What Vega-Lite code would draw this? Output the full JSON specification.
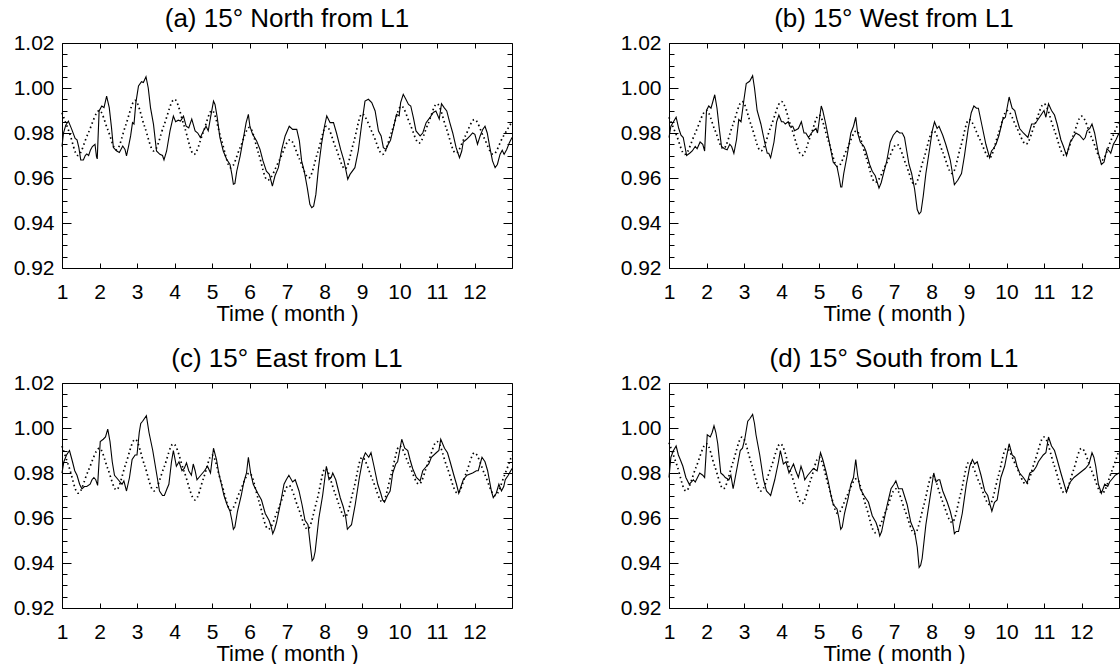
{
  "$schema": "https://vega.github.io/schema/vega-lite/v6.json",
  "padding": {"left": 13, "top": 6, "right": 0, "bottom": 0},
  "config": {
    "font": "Liberation Sans",
    "view": {"stroke": null},
    "axis": {"grid": false, "domainColor": "black", "tickColor": "black", "labelColor": "black", "titleColor": "black", "domainWidth": 1, "tickWidth": 1, "labelFont": "Liberation Sans", "titleFont": "Liberation Sans", "titleFontWeight": "normal", "labelFontSize": 21, "titleFontSize": 22, "labelOverlap": false, "labelFlush": false},
    "header": {"labelFont": "Liberation Sans", "labelFontSize": 26, "labelColor": "black", "title": null}
  },
  "data": {"values": [
    {"p":"a","k":"s","t":1.00,"v":0.974},{"p":"a","k":"s","t":1.04,"v":0.980},{"p":"a","k":"s","t":1.10,"v":0.9835},{"p":"a","k":"s","t":1.17,"v":0.9853},{"p":"a","k":"s","t":1.26,"v":0.9816},{"p":"a","k":"s","t":1.35,"v":0.9776},{"p":"a","k":"s","t":1.40,"v":0.977},{"p":"a","k":"s","t":1.45,"v":0.9735},{"p":"a","k":"s","t":1.50,"v":0.968},{"p":"a","k":"s","t":1.57,"v":0.968},{"p":"a","k":"s","t":1.62,"v":0.970},{"p":"a","k":"s","t":1.66,"v":0.9707},{"p":"a","k":"s","t":1.71,"v":0.970},{"p":"a","k":"s","t":1.76,"v":0.9725},{"p":"a","k":"s","t":1.81,"v":0.974},{"p":"a","k":"s","t":1.88,"v":0.975},{"p":"a","k":"s","t":1.92,"v":0.9694},{"p":"a","k":"s","t":1.94,"v":0.9685},{"p":"a","k":"s","t":1.99,"v":0.9898},{"p":"a","k":"s","t":2.06,"v":0.992},{"p":"a","k":"s","t":2.12,"v":0.9913},{"p":"a","k":"s","t":2.19,"v":0.9964},{"p":"a","k":"s","t":2.26,"v":0.9913},{"p":"a","k":"s","t":2.32,"v":0.9824},{"p":"a","k":"s","t":2.37,"v":0.9735},{"p":"a","k":"s","t":2.46,"v":0.972},{"p":"a","k":"s","t":2.53,"v":0.9713},{"p":"a","k":"s","t":2.62,"v":0.9742},{"p":"a","k":"s","t":2.68,"v":0.9727},{"p":"a","k":"s","t":2.72,"v":0.9698},{"p":"a","k":"s","t":2.78,"v":0.9745},{"p":"a","k":"s","t":2.83,"v":0.9787},{"p":"a","k":"s","t":2.88,"v":0.9846},{"p":"a","k":"s","t":2.92,"v":0.984},{"p":"a","k":"s","t":2.97,"v":0.9935},{"p":"a","k":"s","t":3.04,"v":1.0009},{"p":"a","k":"s","t":3.12,"v":1.0028},{"p":"a","k":"s","t":3.17,"v":1.0024},{"p":"a","k":"s","t":3.24,"v":1.005},{"p":"a","k":"s","t":3.30,"v":1.000},{"p":"a","k":"s","t":3.36,"v":0.9913},{"p":"a","k":"s","t":3.44,"v":0.9838},{"p":"a","k":"s","t":3.52,"v":0.972},{"p":"a","k":"s","t":3.61,"v":0.9705},{"p":"a","k":"s","t":3.68,"v":0.970},{"p":"a","k":"s","t":3.72,"v":0.968},{"p":"a","k":"s","t":3.79,"v":0.972},{"p":"a","k":"s","t":3.88,"v":0.9809},{"p":"a","k":"s","t":3.97,"v":0.9875},{"p":"a","k":"s","t":4.03,"v":0.985},{"p":"a","k":"s","t":4.10,"v":0.9857},{"p":"a","k":"s","t":4.16,"v":0.9853},{"p":"a","k":"s","t":4.24,"v":0.9875},{"p":"a","k":"s","t":4.31,"v":0.983},{"p":"a","k":"s","t":4.38,"v":0.9823},{"p":"a","k":"s","t":4.46,"v":0.9862},{"p":"a","k":"s","t":4.55,"v":0.9809},{"p":"a","k":"s","t":4.62,"v":0.980},{"p":"a","k":"s","t":4.69,"v":0.978},{"p":"a","k":"s","t":4.77,"v":0.9809},{"p":"a","k":"s","t":4.84,"v":0.983},{"p":"a","k":"s","t":4.90,"v":0.981},{"p":"a","k":"s","t":4.96,"v":0.9868},{"p":"a","k":"s","t":5.04,"v":0.9942},{"p":"a","k":"s","t":5.08,"v":0.9927},{"p":"a","k":"s","t":5.14,"v":0.9868},{"p":"a","k":"s","t":5.21,"v":0.978},{"p":"a","k":"s","t":5.30,"v":0.972},{"p":"a","k":"s","t":5.39,"v":0.9683},{"p":"a","k":"s","t":5.48,"v":0.966},{"p":"a","k":"s","t":5.53,"v":0.9616},{"p":"a","k":"s","t":5.57,"v":0.9572},{"p":"a","k":"s","t":5.61,"v":0.9575},{"p":"a","k":"s","t":5.66,"v":0.963},{"p":"a","k":"s","t":5.75,"v":0.9697},{"p":"a","k":"s","t":5.84,"v":0.978},{"p":"a","k":"s","t":5.91,"v":0.9846},{"p":"a","k":"s","t":5.97,"v":0.9883},{"p":"a","k":"s","t":6.01,"v":0.983},{"p":"a","k":"s","t":6.08,"v":0.9795},{"p":"a","k":"s","t":6.19,"v":0.9765},{"p":"a","k":"s","t":6.28,"v":0.9727},{"p":"a","k":"s","t":6.36,"v":0.9676},{"p":"a","k":"s","t":6.45,"v":0.963},{"p":"a","k":"s","t":6.53,"v":0.9616},{"p":"a","k":"s","t":6.61,"v":0.9564},{"p":"a","k":"s","t":6.68,"v":0.961},{"p":"a","k":"s","t":6.77,"v":0.9646},{"p":"a","k":"s","t":6.86,"v":0.9727},{"p":"a","k":"s","t":6.95,"v":0.9787},{"p":"a","k":"s","t":7.06,"v":0.983},{"p":"a","k":"s","t":7.15,"v":0.9816},{"p":"a","k":"s","t":7.26,"v":0.9816},{"p":"a","k":"s","t":7.33,"v":0.9765},{"p":"a","k":"s","t":7.39,"v":0.9676},{"p":"a","k":"s","t":7.46,"v":0.963},{"p":"a","k":"s","t":7.54,"v":0.9557},{"p":"a","k":"s","t":7.61,"v":0.9483},{"p":"a","k":"s","t":7.66,"v":0.9468},{"p":"a","k":"s","t":7.71,"v":0.9475},{"p":"a","k":"s","t":7.77,"v":0.9527},{"p":"a","k":"s","t":7.84,"v":0.9646},{"p":"a","k":"s","t":7.92,"v":0.975},{"p":"a","k":"s","t":8.00,"v":0.983},{"p":"a","k":"s","t":8.06,"v":0.9876},{"p":"a","k":"s","t":8.15,"v":0.9846},{"p":"a","k":"s","t":8.24,"v":0.9846},{"p":"a","k":"s","t":8.32,"v":0.980},{"p":"a","k":"s","t":8.43,"v":0.9727},{"p":"a","k":"s","t":8.52,"v":0.9676},{"p":"a","k":"s","t":8.62,"v":0.9594},{"p":"a","k":"s","t":8.68,"v":0.9616},{"p":"a","k":"s","t":8.81,"v":0.9646},{"p":"a","k":"s","t":8.90,"v":0.972},{"p":"a","k":"s","t":8.99,"v":0.9838},{"p":"a","k":"s","t":9.08,"v":0.9942},{"p":"a","k":"s","t":9.17,"v":0.995},{"p":"a","k":"s","t":9.26,"v":0.9935},{"p":"a","k":"s","t":9.35,"v":0.9898},{"p":"a","k":"s","t":9.44,"v":0.9809},{"p":"a","k":"s","t":9.51,"v":0.9787},{"p":"a","k":"s","t":9.57,"v":0.9735},{"p":"a","k":"s","t":9.64,"v":0.9727},{"p":"a","k":"s","t":9.70,"v":0.975},{"p":"a","k":"s","t":9.76,"v":0.9768},{"p":"a","k":"s","t":9.84,"v":0.9824},{"p":"a","k":"s","t":9.92,"v":0.9883},{"p":"a","k":"s","t":9.99,"v":0.9876},{"p":"a","k":"s","t":10.03,"v":0.9935},{"p":"a","k":"s","t":10.10,"v":0.9972},{"p":"a","k":"s","t":10.17,"v":0.995},{"p":"a","k":"s","t":10.24,"v":0.9927},{"p":"a","k":"s","t":10.30,"v":0.992},{"p":"a","k":"s","t":10.37,"v":0.9868},{"p":"a","k":"s","t":10.44,"v":0.9809},{"p":"a","k":"s","t":10.55,"v":0.9787},{"p":"a","k":"s","t":10.62,"v":0.980},{"p":"a","k":"s","t":10.71,"v":0.9846},{"p":"a","k":"s","t":10.81,"v":0.9868},{"p":"a","k":"s","t":10.90,"v":0.9891},{"p":"a","k":"s","t":10.97,"v":0.9898},{"p":"a","k":"s","t":11.06,"v":0.9862},{"p":"a","k":"s","t":11.12,"v":0.993},{"p":"a","k":"s","t":11.19,"v":0.9913},{"p":"a","k":"s","t":11.26,"v":0.9898},{"p":"a","k":"s","t":11.33,"v":0.9853},{"p":"a","k":"s","t":11.42,"v":0.980},{"p":"a","k":"s","t":11.51,"v":0.9735},{"p":"a","k":"s","t":11.60,"v":0.969},{"p":"a","k":"s","t":11.66,"v":0.972},{"p":"a","k":"s","t":11.70,"v":0.976},{"p":"a","k":"s","t":11.79,"v":0.9772},{"p":"a","k":"s","t":11.88,"v":0.9787},{"p":"a","k":"s","t":11.95,"v":0.980},{"p":"a","k":"s","t":12.01,"v":0.9794},{"p":"a","k":"s","t":12.08,"v":0.975},{"p":"a","k":"s","t":12.15,"v":0.9787},{"p":"a","k":"s","t":12.22,"v":0.9816},{"p":"a","k":"s","t":12.28,"v":0.983},{"p":"a","k":"s","t":12.34,"v":0.980},{"p":"a","k":"s","t":12.41,"v":0.9735},{"p":"a","k":"s","t":12.48,"v":0.9676},{"p":"a","k":"s","t":12.55,"v":0.9646},{"p":"a","k":"s","t":12.61,"v":0.966},{"p":"a","k":"s","t":12.68,"v":0.9705},{"p":"a","k":"s","t":12.74,"v":0.9723},{"p":"a","k":"s","t":12.79,"v":0.9705},{"p":"a","k":"s","t":12.86,"v":0.9727},{"p":"a","k":"s","t":12.93,"v":0.9757},{"p":"a","k":"s","t":13.00,"v":0.978},

    {"p":"a","k":"d","t":1.00,"v":0.989},{"p":"a","k":"d","t":1.20,"v":0.980},{"p":"a","k":"d","t":1.42,"v":0.970},{"p":"a","k":"d","t":1.70,"v":0.980},{"p":"a","k":"d","t":2.00,"v":0.990},{"p":"a","k":"d","t":2.22,"v":0.9815},{"p":"a","k":"d","t":2.45,"v":0.9725},{"p":"a","k":"d","t":2.70,"v":0.9835},{"p":"a","k":"d","t":2.95,"v":0.9945},{"p":"a","k":"d","t":3.20,"v":0.983},{"p":"a","k":"d","t":3.45,"v":0.972},{"p":"a","k":"d","t":3.72,"v":0.9835},{"p":"a","k":"d","t":4.00,"v":0.995},{"p":"a","k":"d","t":4.26,"v":0.983},{"p":"a","k":"d","t":4.52,"v":0.9705},{"p":"a","k":"d","t":4.76,"v":0.980},{"p":"a","k":"d","t":5.00,"v":0.990},{"p":"a","k":"d","t":5.25,"v":0.977},{"p":"a","k":"d","t":5.50,"v":0.9645},{"p":"a","k":"d","t":5.75,"v":0.9735},{"p":"a","k":"d","t":6.00,"v":0.9825},{"p":"a","k":"d","t":6.24,"v":0.971},{"p":"a","k":"d","t":6.48,"v":0.959},{"p":"a","k":"d","t":6.80,"v":0.968},{"p":"a","k":"d","t":7.08,"v":0.977},{"p":"a","k":"d","t":7.33,"v":0.9685},{"p":"a","k":"d","t":7.58,"v":0.960},{"p":"a","k":"d","t":7.82,"v":0.9715},{"p":"a","k":"d","t":8.05,"v":0.983},{"p":"a","k":"d","t":8.30,"v":0.9735},{"p":"a","k":"d","t":8.55,"v":0.964},{"p":"a","k":"d","t":8.78,"v":0.976},{"p":"a","k":"d","t":9.00,"v":0.9885},{"p":"a","k":"d","t":9.28,"v":0.980},{"p":"a","k":"d","t":9.55,"v":0.9705},{"p":"a","k":"d","t":9.80,"v":0.981},{"p":"a","k":"d","t":10.05,"v":0.992},{"p":"a","k":"d","t":10.28,"v":0.984},{"p":"a","k":"d","t":10.52,"v":0.9755},{"p":"a","k":"d","t":10.76,"v":0.984},{"p":"a","k":"d","t":11.00,"v":0.993},{"p":"a","k":"d","t":11.25,"v":0.982},{"p":"a","k":"d","t":11.50,"v":0.971},{"p":"a","k":"d","t":11.75,"v":0.9785},{"p":"a","k":"d","t":12.00,"v":0.986},{"p":"a","k":"d","t":12.25,"v":0.978},{"p":"a","k":"d","t":12.50,"v":0.9705},{"p":"a","k":"d","t":12.75,"v":0.978},{"p":"a","k":"d","t":13.00,"v":0.985},

    {"p":"b","k":"s","t":1.00,"v":0.978},{"p":"b","k":"s","t":1.05,"v":0.983},{"p":"b","k":"s","t":1.12,"v":0.985},{"p":"b","k":"s","t":1.19,"v":0.987},{"p":"b","k":"s","t":1.26,"v":0.982},{"p":"b","k":"s","t":1.32,"v":0.979},{"p":"b","k":"s","t":1.38,"v":0.978},{"p":"b","k":"s","t":1.47,"v":0.970},{"p":"b","k":"s","t":1.55,"v":0.971},{"p":"b","k":"s","t":1.62,"v":0.972},{"p":"b","k":"s","t":1.70,"v":0.974},{"p":"b","k":"s","t":1.75,"v":0.973},{"p":"b","k":"s","t":1.83,"v":0.976},{"p":"b","k":"s","t":1.90,"v":0.975},{"p":"b","k":"s","t":1.95,"v":0.972},{"p":"b","k":"s","t":2.00,"v":0.990},{"p":"b","k":"s","t":2.06,"v":0.992},{"p":"b","k":"s","t":2.12,"v":0.991},{"p":"b","k":"s","t":2.22,"v":0.997},{"p":"b","k":"s","t":2.28,"v":0.991},{"p":"b","k":"s","t":2.34,"v":0.982},{"p":"b","k":"s","t":2.40,"v":0.974},{"p":"b","k":"s","t":2.48,"v":0.973},{"p":"b","k":"s","t":2.55,"v":0.9725},{"p":"b","k":"s","t":2.62,"v":0.975},{"p":"b","k":"s","t":2.67,"v":0.974},{"p":"b","k":"s","t":2.73,"v":0.971},{"p":"b","k":"s","t":2.80,"v":0.977},{"p":"b","k":"s","t":2.86,"v":0.986},{"p":"b","k":"s","t":2.92,"v":0.985},{"p":"b","k":"s","t":3.00,"v":0.995},{"p":"b","k":"s","t":3.06,"v":1.002},{"p":"b","k":"s","t":3.15,"v":1.003},{"p":"b","k":"s","t":3.23,"v":1.0055},{"p":"b","k":"s","t":3.28,"v":1.000},{"p":"b","k":"s","t":3.35,"v":0.990},{"p":"b","k":"s","t":3.45,"v":0.984},{"p":"b","k":"s","t":3.55,"v":0.976},{"p":"b","k":"s","t":3.62,"v":0.971},{"p":"b","k":"s","t":3.66,"v":0.971},{"p":"b","k":"s","t":3.71,"v":0.969},{"p":"b","k":"s","t":3.80,"v":0.976},{"p":"b","k":"s","t":3.87,"v":0.985},{"p":"b","k":"s","t":3.93,"v":0.988},{"p":"b","k":"s","t":4.00,"v":0.985},{"p":"b","k":"s","t":4.05,"v":0.985},{"p":"b","k":"s","t":4.10,"v":0.984},{"p":"b","k":"s","t":4.18,"v":0.985},{"p":"b","k":"s","t":4.22,"v":0.983},{"p":"b","k":"s","t":4.30,"v":0.983},{"p":"b","k":"s","t":4.35,"v":0.981},{"p":"b","k":"s","t":4.45,"v":0.982},{"p":"b","k":"s","t":4.53,"v":0.985},{"p":"b","k":"s","t":4.60,"v":0.980},{"p":"b","k":"s","t":4.65,"v":0.980},{"p":"b","k":"s","t":4.72,"v":0.978},{"p":"b","k":"s","t":4.80,"v":0.980},{"p":"b","k":"s","t":4.85,"v":0.981},{"p":"b","k":"s","t":4.92,"v":0.982},{"p":"b","k":"s","t":4.96,"v":0.980},{"p":"b","k":"s","t":5.06,"v":0.992},{"p":"b","k":"s","t":5.10,"v":0.990},{"p":"b","k":"s","t":5.18,"v":0.984},{"p":"b","k":"s","t":5.25,"v":0.978},{"p":"b","k":"s","t":5.32,"v":0.972},{"p":"b","k":"s","t":5.38,"v":0.967},{"p":"b","k":"s","t":5.48,"v":0.965},{"p":"b","k":"s","t":5.54,"v":0.960},{"p":"b","k":"s","t":5.58,"v":0.956},{"p":"b","k":"s","t":5.61,"v":0.956},{"p":"b","k":"s","t":5.66,"v":0.962},{"p":"b","k":"s","t":5.75,"v":0.970},{"p":"b","k":"s","t":5.85,"v":0.980},{"p":"b","k":"s","t":5.92,"v":0.983},{"p":"b","k":"s","t":5.98,"v":0.987},{"p":"b","k":"s","t":6.03,"v":0.980},{"p":"b","k":"s","t":6.10,"v":0.976},{"p":"b","k":"s","t":6.20,"v":0.974},{"p":"b","k":"s","t":6.25,"v":0.972},{"p":"b","k":"s","t":6.35,"v":0.966},{"p":"b","k":"s","t":6.42,"v":0.963},{"p":"b","k":"s","t":6.50,"v":0.961},{"p":"b","k":"s","t":6.60,"v":0.9555},{"p":"b","k":"s","t":6.66,"v":0.958},{"p":"b","k":"s","t":6.72,"v":0.962},{"p":"b","k":"s","t":6.80,"v":0.967},{"p":"b","k":"s","t":6.90,"v":0.976},{"p":"b","k":"s","t":6.98,"v":0.979},{"p":"b","k":"s","t":7.08,"v":0.981},{"p":"b","k":"s","t":7.15,"v":0.980},{"p":"b","k":"s","t":7.22,"v":0.980},{"p":"b","k":"s","t":7.28,"v":0.978},{"p":"b","k":"s","t":7.34,"v":0.972},{"p":"b","k":"s","t":7.40,"v":0.966},{"p":"b","k":"s","t":7.47,"v":0.962},{"p":"b","k":"s","t":7.55,"v":0.955},{"p":"b","k":"s","t":7.62,"v":0.946},{"p":"b","k":"s","t":7.67,"v":0.944},{"p":"b","k":"s","t":7.72,"v":0.945},{"p":"b","k":"s","t":7.78,"v":0.952},{"p":"b","k":"s","t":7.85,"v":0.962},{"p":"b","k":"s","t":7.95,"v":0.973},{"p":"b","k":"s","t":8.02,"v":0.981},{"p":"b","k":"s","t":8.08,"v":0.985},{"p":"b","k":"s","t":8.15,"v":0.982},{"p":"b","k":"s","t":8.20,"v":0.983},{"p":"b","k":"s","t":8.30,"v":0.979},{"p":"b","k":"s","t":8.38,"v":0.975},{"p":"b","k":"s","t":8.45,"v":0.971},{"p":"b","k":"s","t":8.50,"v":0.968},{"p":"b","k":"s","t":8.56,"v":0.962},{"p":"b","k":"s","t":8.61,"v":0.957},{"p":"b","k":"s","t":8.70,"v":0.959},{"p":"b","k":"s","t":8.80,"v":0.962},{"p":"b","k":"s","t":8.88,"v":0.970},{"p":"b","k":"s","t":8.98,"v":0.982},{"p":"b","k":"s","t":9.06,"v":0.989},{"p":"b","k":"s","t":9.13,"v":0.992},{"p":"b","k":"s","t":9.20,"v":0.991},{"p":"b","k":"s","t":9.25,"v":0.991},{"p":"b","k":"s","t":9.35,"v":0.983},{"p":"b","k":"s","t":9.45,"v":0.975},{"p":"b","k":"s","t":9.50,"v":0.972},{"p":"b","k":"s","t":9.55,"v":0.969},{"p":"b","k":"s","t":9.60,"v":0.972},{"p":"b","k":"s","t":9.65,"v":0.973},{"p":"b","k":"s","t":9.72,"v":0.975},{"p":"b","k":"s","t":9.80,"v":0.979},{"p":"b","k":"s","t":9.90,"v":0.986},{"p":"b","k":"s","t":9.97,"v":0.987},{"p":"b","k":"s","t":10.07,"v":0.996},{"p":"b","k":"s","t":10.15,"v":0.991},{"p":"b","k":"s","t":10.22,"v":0.990},{"p":"b","k":"s","t":10.28,"v":0.986},{"p":"b","k":"s","t":10.35,"v":0.982},{"p":"b","k":"s","t":10.45,"v":0.980},{"p":"b","k":"s","t":10.57,"v":0.978},{"p":"b","k":"s","t":10.62,"v":0.981},{"p":"b","k":"s","t":10.67,"v":0.984},{"p":"b","k":"s","t":10.75,"v":0.984},{"p":"b","k":"s","t":10.80,"v":0.985},{"p":"b","k":"s","t":10.92,"v":0.988},{"p":"b","k":"s","t":11.00,"v":0.990},{"p":"b","k":"s","t":11.05,"v":0.987},{"p":"b","k":"s","t":11.12,"v":0.993},{"p":"b","k":"s","t":11.20,"v":0.990},{"p":"b","k":"s","t":11.28,"v":0.988},{"p":"b","k":"s","t":11.35,"v":0.984},{"p":"b","k":"s","t":11.45,"v":0.977},{"p":"b","k":"s","t":11.52,"v":0.974},{"p":"b","k":"s","t":11.60,"v":0.970},{"p":"b","k":"s","t":11.65,"v":0.973},{"p":"b","k":"s","t":11.70,"v":0.976},{"p":"b","k":"s","t":11.78,"v":0.978},{"p":"b","k":"s","t":11.85,"v":0.980},{"p":"b","k":"s","t":11.95,"v":0.979},{"p":"b","k":"s","t":12.05,"v":0.977},{"p":"b","k":"s","t":12.10,"v":0.978},{"p":"b","k":"s","t":12.15,"v":0.981},{"p":"b","k":"s","t":12.22,"v":0.982},{"p":"b","k":"s","t":12.28,"v":0.984},{"p":"b","k":"s","t":12.35,"v":0.980},{"p":"b","k":"s","t":12.45,"v":0.971},{"p":"b","k":"s","t":12.53,"v":0.966},{"p":"b","k":"s","t":12.60,"v":0.967},{"p":"b","k":"s","t":12.68,"v":0.973},{"p":"b","k":"s","t":12.74,"v":0.972},{"p":"b","k":"s","t":12.78,"v":0.971},{"p":"b","k":"s","t":12.85,"v":0.975},{"p":"b","k":"s","t":12.92,"v":0.977},{"p":"b","k":"s","t":13.00,"v":0.980},

    {"p":"b","k":"d","t":1.00,"v":0.987},{"p":"b","k":"d","t":1.20,"v":0.979},{"p":"b","k":"d","t":1.42,"v":0.9705},{"p":"b","k":"d","t":1.70,"v":0.980},{"p":"b","k":"d","t":2.00,"v":0.990},{"p":"b","k":"d","t":2.22,"v":0.9815},{"p":"b","k":"d","t":2.45,"v":0.973},{"p":"b","k":"d","t":2.70,"v":0.9835},{"p":"b","k":"d","t":2.95,"v":0.994},{"p":"b","k":"d","t":3.20,"v":0.983},{"p":"b","k":"d","t":3.45,"v":0.972},{"p":"b","k":"d","t":3.72,"v":0.983},{"p":"b","k":"d","t":4.00,"v":0.994},{"p":"b","k":"d","t":4.27,"v":0.982},{"p":"b","k":"d","t":4.55,"v":0.970},{"p":"b","k":"d","t":4.78,"v":0.979},{"p":"b","k":"d","t":5.00,"v":0.988},{"p":"b","k":"d","t":5.25,"v":0.9765},{"p":"b","k":"d","t":5.50,"v":0.965},{"p":"b","k":"d","t":5.75,"v":0.973},{"p":"b","k":"d","t":6.00,"v":0.981},{"p":"b","k":"d","t":6.25,"v":0.9695},{"p":"b","k":"d","t":6.50,"v":0.958},{"p":"b","k":"d","t":6.80,"v":0.9665},{"p":"b","k":"d","t":7.08,"v":0.975},{"p":"b","k":"d","t":7.32,"v":0.966},{"p":"b","k":"d","t":7.55,"v":0.957},{"p":"b","k":"d","t":7.80,"v":0.969},{"p":"b","k":"d","t":8.05,"v":0.981},{"p":"b","k":"d","t":8.30,"v":0.9715},{"p":"b","k":"d","t":8.55,"v":0.962},{"p":"b","k":"d","t":8.78,"v":0.974},{"p":"b","k":"d","t":9.00,"v":0.986},{"p":"b","k":"d","t":9.28,"v":0.9775},{"p":"b","k":"d","t":9.55,"v":0.969},{"p":"b","k":"d","t":9.78,"v":0.9795},{"p":"b","k":"d","t":10.02,"v":0.990},{"p":"b","k":"d","t":10.27,"v":0.9825},{"p":"b","k":"d","t":10.52,"v":0.975},{"p":"b","k":"d","t":10.76,"v":0.984},{"p":"b","k":"d","t":11.00,"v":0.993},{"p":"b","k":"d","t":11.27,"v":0.9815},{"p":"b","k":"d","t":11.55,"v":0.970},{"p":"b","k":"d","t":11.78,"v":0.979},{"p":"b","k":"d","t":12.00,"v":0.9875},{"p":"b","k":"d","t":12.27,"v":0.978},{"p":"b","k":"d","t":12.55,"v":0.968},{"p":"b","k":"d","t":12.78,"v":0.9765},{"p":"b","k":"d","t":13.00,"v":0.985},

    {"p":"c","k":"s","t":1.00,"v":0.980},{"p":"c","k":"s","t":1.05,"v":0.985},{"p":"c","k":"s","t":1.12,"v":0.988},{"p":"c","k":"s","t":1.20,"v":0.990},{"p":"c","k":"s","t":1.28,"v":0.985},{"p":"c","k":"s","t":1.34,"v":0.981},{"p":"c","k":"s","t":1.40,"v":0.979},{"p":"c","k":"s","t":1.47,"v":0.975},{"p":"c","k":"s","t":1.53,"v":0.973},{"p":"c","k":"s","t":1.60,"v":0.974},{"p":"c","k":"s","t":1.66,"v":0.974},{"p":"c","k":"s","t":1.75,"v":0.975},{"p":"c","k":"s","t":1.80,"v":0.977},{"p":"c","k":"s","t":1.85,"v":0.978},{"p":"c","k":"s","t":1.90,"v":0.977},{"p":"c","k":"s","t":1.95,"v":0.9745},{"p":"c","k":"s","t":2.02,"v":0.994},{"p":"c","k":"s","t":2.10,"v":0.995},{"p":"c","k":"s","t":2.16,"v":0.996},{"p":"c","k":"s","t":2.22,"v":0.9995},{"p":"c","k":"s","t":2.28,"v":0.994},{"p":"c","k":"s","t":2.34,"v":0.985},{"p":"c","k":"s","t":2.40,"v":0.979},{"p":"c","k":"s","t":2.50,"v":0.977},{"p":"c","k":"s","t":2.60,"v":0.975},{"p":"c","k":"s","t":2.65,"v":0.9765},{"p":"c","k":"s","t":2.72,"v":0.972},{"p":"c","k":"s","t":2.80,"v":0.978},{"p":"c","k":"s","t":2.87,"v":0.986},{"p":"c","k":"s","t":2.95,"v":0.988},{"p":"c","k":"s","t":3.00,"v":0.988},{"p":"c","k":"s","t":3.06,"v":0.998},{"p":"c","k":"s","t":3.10,"v":1.002},{"p":"c","k":"s","t":3.15,"v":1.003},{"p":"c","k":"s","t":3.25,"v":1.0055},{"p":"c","k":"s","t":3.32,"v":0.998},{"p":"c","k":"s","t":3.42,"v":0.990},{"p":"c","k":"s","t":3.52,"v":0.980},{"p":"c","k":"s","t":3.60,"v":0.972},{"p":"c","k":"s","t":3.68,"v":0.970},{"p":"c","k":"s","t":3.73,"v":0.970},{"p":"c","k":"s","t":3.80,"v":0.973},{"p":"c","k":"s","t":3.85,"v":0.975},{"p":"c","k":"s","t":3.92,"v":0.985},{"p":"c","k":"s","t":3.97,"v":0.990},{"p":"c","k":"s","t":4.05,"v":0.983},{"p":"c","k":"s","t":4.12,"v":0.985},{"p":"c","k":"s","t":4.20,"v":0.981},{"p":"c","k":"s","t":4.26,"v":0.982},{"p":"c","k":"s","t":4.32,"v":0.9845},{"p":"c","k":"s","t":4.38,"v":0.981},{"p":"c","k":"s","t":4.45,"v":0.979},{"p":"c","k":"s","t":4.50,"v":0.984},{"p":"c","k":"s","t":4.55,"v":0.981},{"p":"c","k":"s","t":4.60,"v":0.977},{"p":"c","k":"s","t":4.70,"v":0.979},{"p":"c","k":"s","t":4.80,"v":0.981},{"p":"c","k":"s","t":4.88,"v":0.983},{"p":"c","k":"s","t":4.96,"v":0.980},{"p":"c","k":"s","t":5.04,"v":0.991},{"p":"c","k":"s","t":5.12,"v":0.986},{"p":"c","k":"s","t":5.18,"v":0.980},{"p":"c","k":"s","t":5.25,"v":0.975},{"p":"c","k":"s","t":5.32,"v":0.970},{"p":"c","k":"s","t":5.40,"v":0.966},{"p":"c","k":"s","t":5.48,"v":0.963},{"p":"c","k":"s","t":5.53,"v":0.959},{"p":"c","k":"s","t":5.57,"v":0.955},{"p":"c","k":"s","t":5.61,"v":0.956},{"p":"c","k":"s","t":5.68,"v":0.963},{"p":"c","k":"s","t":5.78,"v":0.970},{"p":"c","k":"s","t":5.85,"v":0.976},{"p":"c","k":"s","t":5.92,"v":0.980},{"p":"c","k":"s","t":5.97,"v":0.987},{"p":"c","k":"s","t":6.03,"v":0.980},{"p":"c","k":"s","t":6.10,"v":0.975},{"p":"c","k":"s","t":6.22,"v":0.971},{"p":"c","k":"s","t":6.32,"v":0.968},{"p":"c","k":"s","t":6.42,"v":0.962},{"p":"c","k":"s","t":6.52,"v":0.959},{"p":"c","k":"s","t":6.58,"v":0.956},{"p":"c","k":"s","t":6.62,"v":0.953},{"p":"c","k":"s","t":6.67,"v":0.955},{"p":"c","k":"s","t":6.72,"v":0.958},{"p":"c","k":"s","t":6.82,"v":0.966},{"p":"c","k":"s","t":6.92,"v":0.975},{"p":"c","k":"s","t":6.98,"v":0.977},{"p":"c","k":"s","t":7.05,"v":0.979},{"p":"c","k":"s","t":7.15,"v":0.976},{"p":"c","k":"s","t":7.22,"v":0.977},{"p":"c","k":"s","t":7.32,"v":0.972},{"p":"c","k":"s","t":7.40,"v":0.966},{"p":"c","k":"s","t":7.48,"v":0.959},{"p":"c","k":"s","t":7.56,"v":0.957},{"p":"c","k":"s","t":7.62,"v":0.948},{"p":"c","k":"s","t":7.67,"v":0.941},{"p":"c","k":"s","t":7.71,"v":0.942},{"p":"c","k":"s","t":7.75,"v":0.945},{"p":"c","k":"s","t":7.85,"v":0.960},{"p":"c","k":"s","t":7.95,"v":0.970},{"p":"c","k":"s","t":8.05,"v":0.983},{"p":"c","k":"s","t":8.12,"v":0.977},{"p":"c","k":"s","t":8.18,"v":0.978},{"p":"c","k":"s","t":8.22,"v":0.980},{"p":"c","k":"s","t":8.30,"v":0.977},{"p":"c","k":"s","t":8.42,"v":0.969},{"p":"c","k":"s","t":8.50,"v":0.965},{"p":"c","k":"s","t":8.56,"v":0.961},{"p":"c","k":"s","t":8.61,"v":0.955},{"p":"c","k":"s","t":8.66,"v":0.956},{"p":"c","k":"s","t":8.72,"v":0.957},{"p":"c","k":"s","t":8.82,"v":0.966},{"p":"c","k":"s","t":8.93,"v":0.978},{"p":"c","k":"s","t":9.02,"v":0.986},{"p":"c","k":"s","t":9.09,"v":0.989},{"p":"c","k":"s","t":9.18,"v":0.987},{"p":"c","k":"s","t":9.24,"v":0.989},{"p":"c","k":"s","t":9.32,"v":0.983},{"p":"c","k":"s","t":9.42,"v":0.975},{"p":"c","k":"s","t":9.50,"v":0.971},{"p":"c","k":"s","t":9.55,"v":0.968},{"p":"c","k":"s","t":9.60,"v":0.967},{"p":"c","k":"s","t":9.68,"v":0.970},{"p":"c","k":"s","t":9.75,"v":0.972},{"p":"c","k":"s","t":9.82,"v":0.980},{"p":"c","k":"s","t":9.90,"v":0.984},{"p":"c","k":"s","t":9.95,"v":0.985},{"p":"c","k":"s","t":10.06,"v":0.995},{"p":"c","k":"s","t":10.14,"v":0.991},{"p":"c","k":"s","t":10.22,"v":0.990},{"p":"c","k":"s","t":10.28,"v":0.986},{"p":"c","k":"s","t":10.35,"v":0.982},{"p":"c","k":"s","t":10.45,"v":0.978},{"p":"c","k":"s","t":10.55,"v":0.9765},{"p":"c","k":"s","t":10.62,"v":0.981},{"p":"c","k":"s","t":10.72,"v":0.983},{"p":"c","k":"s","t":10.78,"v":0.984},{"p":"c","k":"s","t":10.85,"v":0.987},{"p":"c","k":"s","t":10.98,"v":0.989},{"p":"c","k":"s","t":11.05,"v":0.990},{"p":"c","k":"s","t":11.10,"v":0.995},{"p":"c","k":"s","t":11.20,"v":0.991},{"p":"c","k":"s","t":11.28,"v":0.989},{"p":"c","k":"s","t":11.35,"v":0.985},{"p":"c","k":"s","t":11.45,"v":0.979},{"p":"c","k":"s","t":11.52,"v":0.975},{"p":"c","k":"s","t":11.58,"v":0.971},{"p":"c","k":"s","t":11.64,"v":0.974},{"p":"c","k":"s","t":11.70,"v":0.977},{"p":"c","k":"s","t":11.80,"v":0.979},{"p":"c","k":"s","t":11.95,"v":0.980},{"p":"c","k":"s","t":12.05,"v":0.981},{"p":"c","k":"s","t":12.10,"v":0.981},{"p":"c","k":"s","t":12.20,"v":0.987},{"p":"c","k":"s","t":12.28,"v":0.985},{"p":"c","k":"s","t":12.35,"v":0.981},{"p":"c","k":"s","t":12.45,"v":0.972},{"p":"c","k":"s","t":12.50,"v":0.969},{"p":"c","k":"s","t":12.58,"v":0.971},{"p":"c","k":"s","t":12.65,"v":0.975},{"p":"c","k":"s","t":12.72,"v":0.972},{"p":"c","k":"s","t":12.78,"v":0.974},{"p":"c","k":"s","t":12.82,"v":0.977},{"p":"c","k":"s","t":12.90,"v":0.979},{"p":"c","k":"s","t":13.00,"v":0.982},

    {"p":"c","k":"d","t":1.00,"v":0.992},{"p":"c","k":"d","t":1.20,"v":0.982},{"p":"c","k":"d","t":1.43,"v":0.971},{"p":"c","k":"d","t":1.70,"v":0.981},{"p":"c","k":"d","t":2.00,"v":0.991},{"p":"c","k":"d","t":2.22,"v":0.982},{"p":"c","k":"d","t":2.45,"v":0.9725},{"p":"c","k":"d","t":2.70,"v":0.984},{"p":"c","k":"d","t":2.95,"v":0.995},{"p":"c","k":"d","t":3.20,"v":0.9835},{"p":"c","k":"d","t":3.45,"v":0.972},{"p":"c","k":"d","t":3.72,"v":0.9825},{"p":"c","k":"d","t":3.97,"v":0.993},{"p":"c","k":"d","t":4.26,"v":0.9805},{"p":"c","k":"d","t":4.55,"v":0.968},{"p":"c","k":"d","t":4.78,"v":0.978},{"p":"c","k":"d","t":5.00,"v":0.988},{"p":"c","k":"d","t":5.25,"v":0.9755},{"p":"c","k":"d","t":5.50,"v":0.9635},{"p":"c","k":"d","t":5.75,"v":0.972},{"p":"c","k":"d","t":6.00,"v":0.980},{"p":"c","k":"d","t":6.25,"v":0.9675},{"p":"c","k":"d","t":6.50,"v":0.955},{"p":"c","k":"d","t":6.78,"v":0.9645},{"p":"c","k":"d","t":7.05,"v":0.9745},{"p":"c","k":"d","t":7.30,"v":0.9645},{"p":"c","k":"d","t":7.55,"v":0.955},{"p":"c","k":"d","t":7.80,"v":0.968},{"p":"c","k":"d","t":8.02,"v":0.982},{"p":"c","k":"d","t":8.28,"v":0.971},{"p":"c","k":"d","t":8.55,"v":0.9605},{"p":"c","k":"d","t":8.78,"v":0.973},{"p":"c","k":"d","t":9.00,"v":0.987},{"p":"c","k":"d","t":9.28,"v":0.977},{"p":"c","k":"d","t":9.55,"v":0.967},{"p":"c","k":"d","t":9.78,"v":0.9795},{"p":"c","k":"d","t":10.00,"v":0.992},{"p":"c","k":"d","t":10.26,"v":0.9835},{"p":"c","k":"d","t":10.52,"v":0.975},{"p":"c","k":"d","t":10.76,"v":0.9845},{"p":"c","k":"d","t":11.00,"v":0.994},{"p":"c","k":"d","t":11.27,"v":0.9825},{"p":"c","k":"d","t":11.55,"v":0.971},{"p":"c","k":"d","t":11.78,"v":0.980},{"p":"c","k":"d","t":12.00,"v":0.989},{"p":"c","k":"d","t":12.27,"v":0.9795},{"p":"c","k":"d","t":12.55,"v":0.970},{"p":"c","k":"d","t":12.80,"v":0.979},{"p":"c","k":"d","t":13.00,"v":0.988},

    {"p":"d","k":"s","t":1.00,"v":0.978},{"p":"d","k":"s","t":1.05,"v":0.987},{"p":"d","k":"s","t":1.12,"v":0.990},{"p":"d","k":"s","t":1.19,"v":0.992},{"p":"d","k":"s","t":1.25,"v":0.988},{"p":"d","k":"s","t":1.30,"v":0.986},{"p":"d","k":"s","t":1.37,"v":0.983},{"p":"d","k":"s","t":1.45,"v":0.978},{"p":"d","k":"s","t":1.54,"v":0.975},{"p":"d","k":"s","t":1.60,"v":0.976},{"p":"d","k":"s","t":1.65,"v":0.977},{"p":"d","k":"s","t":1.70,"v":0.976},{"p":"d","k":"s","t":1.76,"v":0.978},{"p":"d","k":"s","t":1.82,"v":0.980},{"p":"d","k":"s","t":1.90,"v":0.979},{"p":"d","k":"s","t":1.95,"v":0.978},{"p":"d","k":"s","t":2.02,"v":0.997},{"p":"d","k":"s","t":2.10,"v":0.996},{"p":"d","k":"s","t":2.15,"v":0.998},{"p":"d","k":"s","t":2.20,"v":1.001},{"p":"d","k":"s","t":2.25,"v":0.998},{"p":"d","k":"s","t":2.30,"v":0.993},{"p":"d","k":"s","t":2.38,"v":0.980},{"p":"d","k":"s","t":2.45,"v":0.979},{"p":"d","k":"s","t":2.50,"v":0.978},{"p":"d","k":"s","t":2.60,"v":0.977},{"p":"d","k":"s","t":2.65,"v":0.979},{"p":"d","k":"s","t":2.71,"v":0.973},{"p":"d","k":"s","t":2.80,"v":0.981},{"p":"d","k":"s","t":2.90,"v":0.990},{"p":"d","k":"s","t":2.96,"v":0.991},{"p":"d","k":"s","t":3.02,"v":0.995},{"p":"d","k":"s","t":3.10,"v":1.003},{"p":"d","k":"s","t":3.15,"v":1.004},{"p":"d","k":"s","t":3.23,"v":1.006},{"p":"d","k":"s","t":3.28,"v":1.002},{"p":"d","k":"s","t":3.32,"v":0.997},{"p":"d","k":"s","t":3.42,"v":0.988},{"p":"d","k":"s","t":3.52,"v":0.977},{"p":"d","k":"s","t":3.60,"v":0.972},{"p":"d","k":"s","t":3.66,"v":0.971},{"p":"d","k":"s","t":3.71,"v":0.970},{"p":"d","k":"s","t":3.82,"v":0.977},{"p":"d","k":"s","t":3.92,"v":0.985},{"p":"d","k":"s","t":3.97,"v":0.990},{"p":"d","k":"s","t":4.05,"v":0.984},{"p":"d","k":"s","t":4.12,"v":0.985},{"p":"d","k":"s","t":4.20,"v":0.980},{"p":"d","k":"s","t":4.26,"v":0.982},{"p":"d","k":"s","t":4.32,"v":0.984},{"p":"d","k":"s","t":4.38,"v":0.981},{"p":"d","k":"s","t":4.45,"v":0.978},{"p":"d","k":"s","t":4.52,"v":0.983},{"p":"d","k":"s","t":4.58,"v":0.980},{"p":"d","k":"s","t":4.62,"v":0.977},{"p":"d","k":"s","t":4.70,"v":0.979},{"p":"d","k":"s","t":4.75,"v":0.980},{"p":"d","k":"s","t":4.85,"v":0.982},{"p":"d","k":"s","t":4.95,"v":0.981},{"p":"d","k":"s","t":5.04,"v":0.989},{"p":"d","k":"s","t":5.10,"v":0.986},{"p":"d","k":"s","t":5.18,"v":0.981},{"p":"d","k":"s","t":5.25,"v":0.976},{"p":"d","k":"s","t":5.32,"v":0.970},{"p":"d","k":"s","t":5.38,"v":0.966},{"p":"d","k":"s","t":5.48,"v":0.964},{"p":"d","k":"s","t":5.53,"v":0.960},{"p":"d","k":"s","t":5.58,"v":0.955},{"p":"d","k":"s","t":5.62,"v":0.956},{"p":"d","k":"s","t":5.68,"v":0.962},{"p":"d","k":"s","t":5.78,"v":0.969},{"p":"d","k":"s","t":5.85,"v":0.975},{"p":"d","k":"s","t":5.92,"v":0.978},{"p":"d","k":"s","t":5.98,"v":0.986},{"p":"d","k":"s","t":6.03,"v":0.979},{"p":"d","k":"s","t":6.10,"v":0.973},{"p":"d","k":"s","t":6.20,"v":0.970},{"p":"d","k":"s","t":6.32,"v":0.967},{"p":"d","k":"s","t":6.42,"v":0.961},{"p":"d","k":"s","t":6.52,"v":0.958},{"p":"d","k":"s","t":6.58,"v":0.955},{"p":"d","k":"s","t":6.62,"v":0.952},{"p":"d","k":"s","t":6.67,"v":0.954},{"p":"d","k":"s","t":6.72,"v":0.958},{"p":"d","k":"s","t":6.82,"v":0.966},{"p":"d","k":"s","t":6.92,"v":0.973},{"p":"d","k":"s","t":7.00,"v":0.975},{"p":"d","k":"s","t":7.05,"v":0.9765},{"p":"d","k":"s","t":7.12,"v":0.973},{"p":"d","k":"s","t":7.22,"v":0.973},{"p":"d","k":"s","t":7.35,"v":0.966},{"p":"d","k":"s","t":7.45,"v":0.958},{"p":"d","k":"s","t":7.55,"v":0.954},{"p":"d","k":"s","t":7.62,"v":0.947},{"p":"d","k":"s","t":7.67,"v":0.938},{"p":"d","k":"s","t":7.71,"v":0.939},{"p":"d","k":"s","t":7.75,"v":0.942},{"p":"d","k":"s","t":7.85,"v":0.957},{"p":"d","k":"s","t":7.95,"v":0.968},{"p":"d","k":"s","t":8.06,"v":0.980},{"p":"d","k":"s","t":8.12,"v":0.976},{"p":"d","k":"s","t":8.18,"v":0.977},{"p":"d","k":"s","t":8.22,"v":0.977},{"p":"d","k":"s","t":8.30,"v":0.972},{"p":"d","k":"s","t":8.42,"v":0.967},{"p":"d","k":"s","t":8.50,"v":0.963},{"p":"d","k":"s","t":8.56,"v":0.959},{"p":"d","k":"s","t":8.61,"v":0.953},{"p":"d","k":"s","t":8.66,"v":0.954},{"p":"d","k":"s","t":8.72,"v":0.954},{"p":"d","k":"s","t":8.82,"v":0.962},{"p":"d","k":"s","t":8.93,"v":0.975},{"p":"d","k":"s","t":9.02,"v":0.983},{"p":"d","k":"s","t":9.09,"v":0.986},{"p":"d","k":"s","t":9.15,"v":0.984},{"p":"d","k":"s","t":9.22,"v":0.985},{"p":"d","k":"s","t":9.32,"v":0.979},{"p":"d","k":"s","t":9.42,"v":0.972},{"p":"d","k":"s","t":9.50,"v":0.970},{"p":"d","k":"s","t":9.56,"v":0.966},{"p":"d","k":"s","t":9.61,"v":0.963},{"p":"d","k":"s","t":9.68,"v":0.967},{"p":"d","k":"s","t":9.75,"v":0.968},{"p":"d","k":"s","t":9.85,"v":0.978},{"p":"d","k":"s","t":9.95,"v":0.983},{"p":"d","k":"s","t":10.07,"v":0.993},{"p":"d","k":"s","t":10.15,"v":0.988},{"p":"d","k":"s","t":10.22,"v":0.987},{"p":"d","k":"s","t":10.28,"v":0.983},{"p":"d","k":"s","t":10.35,"v":0.980},{"p":"d","k":"s","t":10.45,"v":0.978},{"p":"d","k":"s","t":10.55,"v":0.9755},{"p":"d","k":"s","t":10.62,"v":0.980},{"p":"d","k":"s","t":10.72,"v":0.981},{"p":"d","k":"s","t":10.80,"v":0.983},{"p":"d","k":"s","t":10.85,"v":0.985},{"p":"d","k":"s","t":10.98,"v":0.988},{"p":"d","k":"s","t":11.05,"v":0.989},{"p":"d","k":"s","t":11.12,"v":0.996},{"p":"d","k":"s","t":11.20,"v":0.992},{"p":"d","k":"s","t":11.28,"v":0.990},{"p":"d","k":"s","t":11.35,"v":0.986},{"p":"d","k":"s","t":11.45,"v":0.980},{"p":"d","k":"s","t":11.52,"v":0.976},{"p":"d","k":"s","t":11.60,"v":0.9715},{"p":"d","k":"s","t":11.65,"v":0.974},{"p":"d","k":"s","t":11.70,"v":0.976},{"p":"d","k":"s","t":11.80,"v":0.978},{"p":"d","k":"s","t":11.95,"v":0.980},{"p":"d","k":"s","t":12.10,"v":0.982},{"p":"d","k":"s","t":12.20,"v":0.984},{"p":"d","k":"s","t":12.28,"v":0.989},{"p":"d","k":"s","t":12.33,"v":0.987},{"p":"d","k":"s","t":12.38,"v":0.983},{"p":"d","k":"s","t":12.45,"v":0.975},{"p":"d","k":"s","t":12.53,"v":0.971},{"p":"d","k":"s","t":12.62,"v":0.975},{"p":"d","k":"s","t":12.70,"v":0.974},{"p":"d","k":"s","t":12.75,"v":0.976},{"p":"d","k":"s","t":12.80,"v":0.977},{"p":"d","k":"s","t":12.90,"v":0.979},{"p":"d","k":"s","t":13.00,"v":0.980},

    {"p":"d","k":"d","t":1.00,"v":0.9935},{"p":"d","k":"d","t":1.22,"v":0.983},{"p":"d","k":"d","t":1.45,"v":0.972},{"p":"d","k":"d","t":1.72,"v":0.9825},{"p":"d","k":"d","t":2.00,"v":0.993},{"p":"d","k":"d","t":2.22,"v":0.983},{"p":"d","k":"d","t":2.45,"v":0.973},{"p":"d","k":"d","t":2.70,"v":0.9845},{"p":"d","k":"d","t":2.95,"v":0.996},{"p":"d","k":"d","t":3.20,"v":0.984},{"p":"d","k":"d","t":3.45,"v":0.972},{"p":"d","k":"d","t":3.72,"v":0.9825},{"p":"d","k":"d","t":3.97,"v":0.993},{"p":"d","k":"d","t":4.26,"v":0.9795},{"p":"d","k":"d","t":4.55,"v":0.9665},{"p":"d","k":"d","t":4.78,"v":0.977},{"p":"d","k":"d","t":5.00,"v":0.987},{"p":"d","k":"d","t":5.25,"v":0.9745},{"p":"d","k":"d","t":5.50,"v":0.962},{"p":"d","k":"d","t":5.75,"v":0.970},{"p":"d","k":"d","t":6.00,"v":0.9775},{"p":"d","k":"d","t":6.25,"v":0.9655},{"p":"d","k":"d","t":6.50,"v":0.9535},{"p":"d","k":"d","t":6.78,"v":0.963},{"p":"d","k":"d","t":7.05,"v":0.973},{"p":"d","k":"d","t":7.30,"v":0.963},{"p":"d","k":"d","t":7.55,"v":0.953},{"p":"d","k":"d","t":7.80,"v":0.966},{"p":"d","k":"d","t":8.02,"v":0.979},{"p":"d","k":"d","t":8.28,"v":0.968},{"p":"d","k":"d","t":8.55,"v":0.958},{"p":"d","k":"d","t":8.78,"v":0.971},{"p":"d","k":"d","t":9.00,"v":0.985},{"p":"d","k":"d","t":9.28,"v":0.9755},{"p":"d","k":"d","t":9.55,"v":0.966},{"p":"d","k":"d","t":9.78,"v":0.9785},{"p":"d","k":"d","t":10.00,"v":0.991},{"p":"d","k":"d","t":10.26,"v":0.983},{"p":"d","k":"d","t":10.52,"v":0.975},{"p":"d","k":"d","t":10.76,"v":0.9855},{"p":"d","k":"d","t":11.00,"v":0.996},{"p":"d","k":"d","t":11.27,"v":0.9835},{"p":"d","k":"d","t":11.55,"v":0.971},{"p":"d","k":"d","t":11.78,"v":0.981},{"p":"d","k":"d","t":12.00,"v":0.991},{"p":"d","k":"d","t":12.27,"v":0.981},{"p":"d","k":"d","t":12.55,"v":0.971},{"p":"d","k":"d","t":12.80,"v":0.9805},{"p":"d","k":"d","t":13.00,"v":0.990}
  ]},
  "facet": {"field": "p", "type": "nominal", "header": {"title": null, "labelFontSize": 26, "labelPadding": 0, "labelExpr": "datum.value == 'a' ? '(a) 15° North from L1' : datum.value == 'b' ? '(b) 15° West from L1' : datum.value == 'c' ? '(c) 15° East from L1' : '(d) 15° South from L1'"}},
  "columns": 2,
  "spacing": {"row": 22, "column": 104},
  "resolve": {"axis": {"x": "independent", "y": "independent"}},
  "spec": {
    "width": 450,
    "height": 225,
    "resolve": {"axis": {"x": "independent", "y": "independent"}},
    "layer": [
      {
        "transform": [{"filter": "datum.k == 's'"}],
        "mark": {"type": "line", "color": "black", "strokeWidth": 1.1},
        "encoding": {
          "x": {"field": "t", "type": "quantitative", "scale": {"domain": [1, 13], "nice": false, "zero": false},
                "axis": {"orient": "bottom", "values": [1,2,3,4,5,6,7,8,9,10,11,12], "tickSize": -5, "labelPadding": 18, "title": "Time ( month )", "titlePadding": 1}},
          "y": {"field": "v", "type": "quantitative", "scale": {"domain": [0.92, 1.02], "nice": false, "zero": false},
                "axis": {"orient": "left", "values": [0.92, 0.94, 0.96, 0.98, 1.0, 1.02], "format": ".2f", "tickSize": -9, "labelPadding": 17, "title": null}}
        }
      },
      {
        "transform": [{"filter": "datum.k == 'd'"}],
        "mark": {"type": "line", "color": "black", "strokeWidth": 1.7, "strokeDash": [1.5, 3], "interpolate": "monotone"},
        "encoding": {
          "x": {"field": "t", "type": "quantitative", "axis": {"orient": "top", "values": [1,2,3,4,5,6,7,8,9,10,11,12], "tickSize": -5, "labels": false, "title": null}},
          "y": {"field": "v", "type": "quantitative", "axis": {"orient": "right", "values": [0.92, 0.94, 0.96, 0.98, 1.0, 1.02], "tickSize": -9, "labels": false, "title": null}}
        }
      },
      {
        "transform": [{"filter": "datum.k == 'd'"}],
        "mark": {"type": "line", "opacity": 0},
        "encoding": {
          "x": {"field": "t", "type": "quantitative", "axis": null},
          "y": {"field": "v", "type": "quantitative", "axis": {"orient": "left", "values": [0.925, 0.93, 0.935, 0.945, 0.95, 0.955, 0.965, 0.97, 0.975, 0.985, 0.99, 0.995, 1.005, 1.01, 1.015], "tickSize": -5, "labels": false, "domain": false, "title": null}}
        }
      },
      {
        "transform": [{"filter": "datum.k == 'd'"}],
        "mark": {"type": "line", "opacity": 0},
        "encoding": {
          "x": {"field": "t", "type": "quantitative", "axis": null},
          "y": {"field": "v", "type": "quantitative", "axis": {"orient": "right", "values": [0.925, 0.93, 0.935, 0.945, 0.95, 0.955, 0.965, 0.97, 0.975, 0.985, 0.99, 0.995, 1.005, 1.01, 1.015], "tickSize": -5, "labels": false, "domain": false, "title": null}}
        }
      }
    ]
  }
}
